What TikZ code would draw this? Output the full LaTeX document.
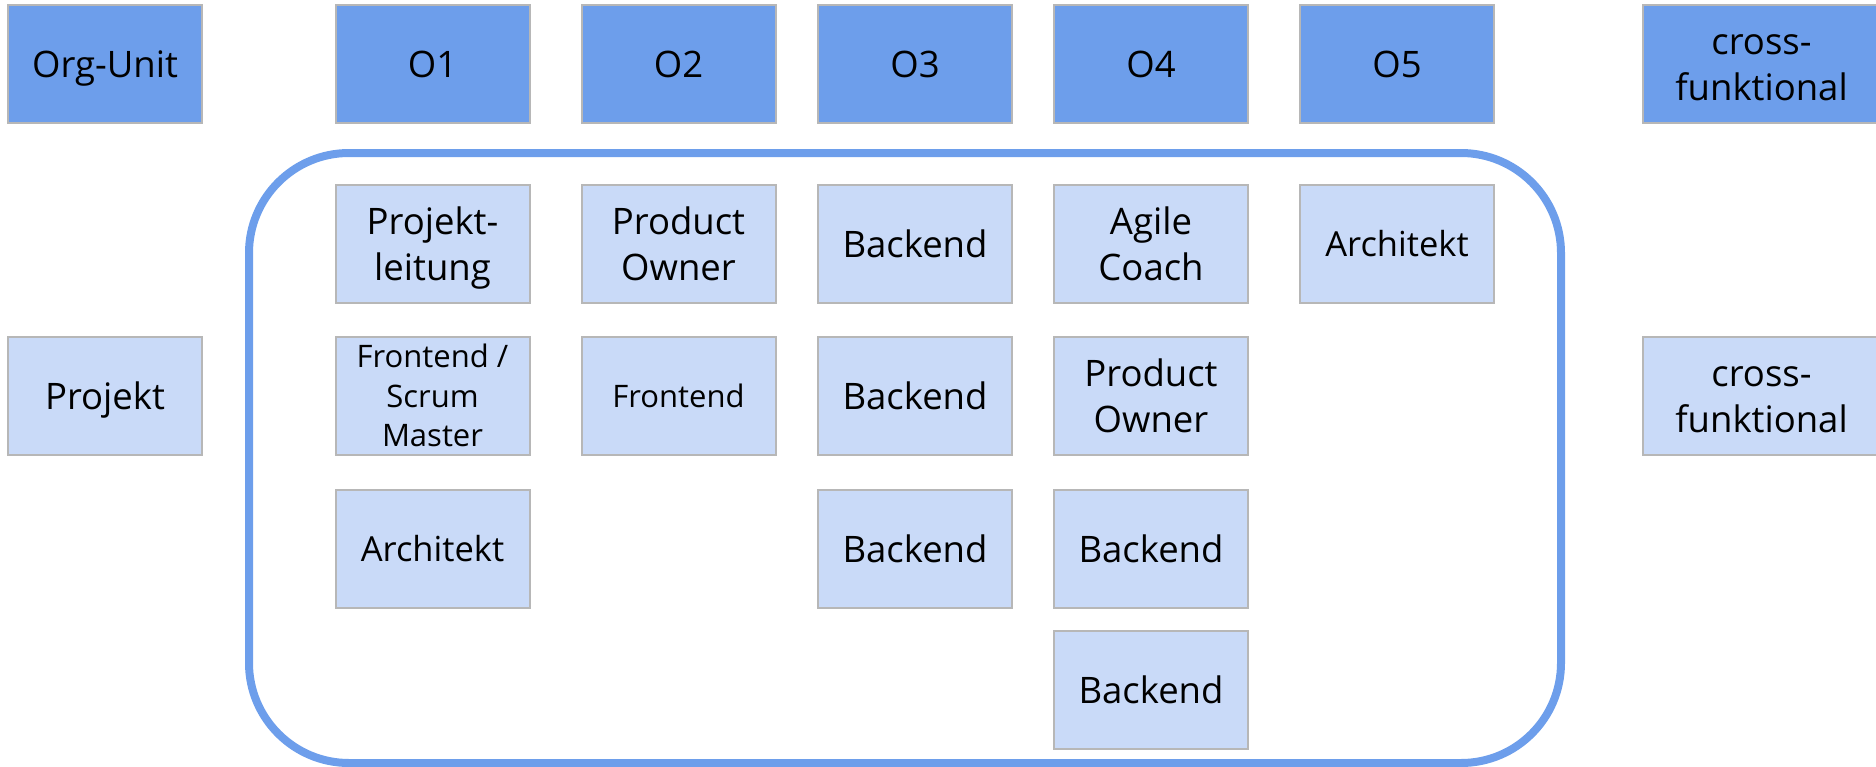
\documentclass[tikz,border=0pt]{standalone}
\usepackage{fontspec}
\setmainfont{Open Sans}
\definecolor{darkblue}{HTML}{6D9EEB}
\definecolor{lightblue}{HTML}{C9DAF8}
\definecolor{boxborder}{HTML}{B7B7B7}
\newcommand\fs{\rule{0pt}{1em}}
\newcommand\ls{\rule[-0.26em]{0pt}{0.26em}}
\tikzset{
  base/.style={rectangle, draw=boxborder, line width=2pt, minimum width=194pt,
    minimum height=118pt, inner sep=0pt, align=center,
    font=\fontsize{36.5}{45.5}\selectfont, text=black},
  topbox/.style={base, fill=darkblue},
  rolebox/.style={base, fill=lightblue},
  widebox/.style={minimum width=237pt},
  smalltext/.style={font=\fontsize{31}{39.5}\selectfont},
  midtext/.style={font=\fontsize{34.5}{43}\selectfont},
  frame/.style={rectangle, draw=darkblue, line width=8pt, rounded corners=100pt,
    minimum width=1312pt, minimum height=610pt, inner sep=0pt}
}
\begin{document}
\begin{tikzpicture}[x=1pt, y=-1pt]
\useasboundingbox (0,0) rectangle (1876,766);
% team frame
\node[frame] (team) at (905,458) {};
% header row
\node[topbox] (orgunit) at (105,64) {\fs Org-Unit\ls};
\node[topbox] (o1) at (432.5,64) {\fs O1\ls};
\node[topbox] (o2) at (678.5,64) {\fs O2\ls};
\node[topbox] (o3) at (915,64) {\fs O3\ls};
\node[topbox] (o4) at (1151,64) {\fs O4\ls};
\node[topbox] (o5) at (1397,64) {\fs O5\ls};
\node[topbox, widebox] (crossh) at (1761.5,64) {\fs cross-\\funktional\ls};
% left / right labels
\node[rolebox] (projekt) at (105,396) {\fs Projekt\ls};
\node[rolebox, widebox] (crossp) at (1761.5,396) {\fs cross-\\funktional\ls};
% column O1
\node[rolebox] (pl) at (432.5,244) {\fs Projekt-\\leitung\ls};
\node[rolebox, smalltext] (fesm) at (432.5,396) {\fs Frontend /\\Scrum\\Master\ls};
\node[rolebox, midtext] (arch1) at (432.5,548.5) {\fs Architekt\ls};
% column O2
\node[rolebox] (po2) at (678.5,244) {\fs Product\\Owner\ls};
\node[rolebox, smalltext] (fe2) at (678.5,396) {\fs Frontend\ls};
% column O3
\node[rolebox] (be31) at (915,244) {\fs Backend\ls};
\node[rolebox] (be32) at (915,396) {\fs Backend\ls};
\node[rolebox] (be33) at (915,548.5) {\fs Backend\ls};
% column O4
\node[rolebox] (ac) at (1151,244) {\fs Agile\\Coach\ls};
\node[rolebox] (po4) at (1151,396) {\fs Product\\Owner\ls};
\node[rolebox] (be41) at (1151,548.5) {\fs Backend\ls};
\node[rolebox] (be42) at (1151,689.5) {\fs Backend\ls};
% column O5
\node[rolebox, midtext] (arch5) at (1397,244) {\fs Architekt\ls};
\end{tikzpicture}
\end{document}
